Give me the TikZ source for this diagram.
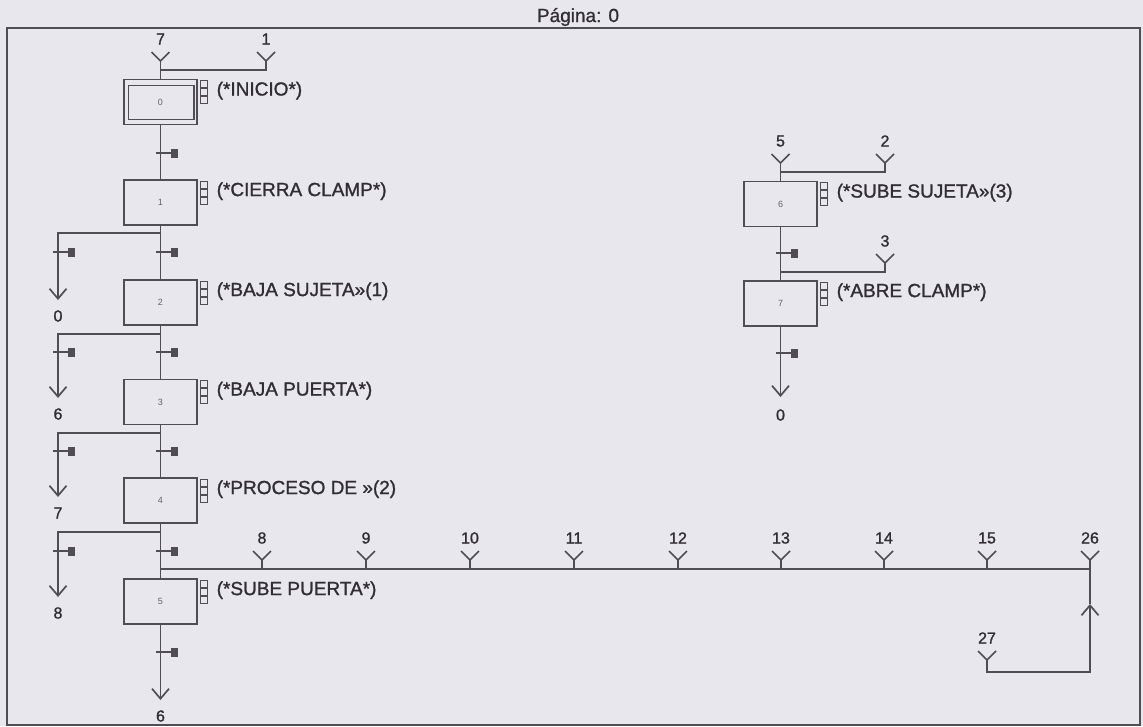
\documentclass[tikz,border=0pt]{standalone}
\usepackage{fontspec}
\setmainfont{Liberation Sans}
\usetikzlibrary{calc, arrows.meta}
\definecolor{papel}{RGB}{232, 231, 237}
\definecolor{trazo}{RGB}{80, 78, 84}
\definecolor{letra}{RGB}{48, 46, 52}

\begin{document}
\begin{tikzpicture}[x=1pt, y=-1pt, line width=1.7pt, trazo,
    etapa/.style={draw, minimum width=73pt, minimum height=45pt, inner sep=0pt,
      font=\fontsize{9}{9}\selectfont, text=letra!75},
    accion/.style={anchor=west, inner sep=0pt,
      font=\fontsize{19}{19}\selectfont\addfontfeature{FakeBold=1.2}, text=letra},
    num/.style={inner sep=0pt,
      font=\fontsize{16}{16}\selectfont\addfontfeature{FakeBold=1.2}, text=letra},
    baja/.style={-{Straight Barb[length=10pt, width=17pt]}},
    trans/.pic={\draw (-5,0) -- (10,0); \fill (10,-4.5) rectangle (17,4.5);},
    entrada/.pic={\draw (-9,-9) -- (0,0) -- (9,-9);}]
  \useasboundingbox (0,0) rectangle (1143,726);
  \fill[papel] (0,0) rectangle (1143,726);
  \draw (7,28) rectangle (1140,725);
  \node[num, font=\fontsize{19}{19}\selectfont\addfontfeature{FakeBold=1}] (pag) at (578,17) {Página: 0};

  % etapas
  \node[etapa] (s0) at (160.5,102) {0};
  \draw[line width=1.3pt] ($(s0.north west)+(5,7)$) rectangle ($(s0.south east)+(-4,-6)$);
  \foreach \n/\x/\y in {1/160.5/202.5, 2/160.5/302.5, 3/160.5/402, 4/160.5/500.5,
      5/160.5/601.5, 6/780.5/204, 7/780.5/303.5}
    \node[etapa] (s\n) at (\x,\y) {\n};

  % acciones
  \foreach \n/\t in {0/{(*INICIO*)}, 1/{(*CIERRA CLAMP*)}, 2/{(*BAJA SUJETA»(1)},
      3/{(*BAJA PUERTA*)}, 4/{(*PROCESO DE »(2)}, 5/{(*SUBE PUERTA*)},
      6/{(*SUBE SUJETA»(3)}, 7/{(*ABRE CLAMP*)}} {
    \node[accion] (a\n) at ($(s\n.north east)+(18,12)$) {\t};
    \foreach \k in {0,1,2}
      \draw[line width=0.9pt] ($(s\n.north east)+(3,2+8*\k)$) rectangle +(7,7);
  }

  % entradas
  \foreach \t/\x/\y in {7/160.5/61, 1/266/61, 5/780.5/163, 2/885/163, 3/885/263,
      27/987/660, 8/262/560, 9/366/560, 10/470/560, 11/574/560, 12/678/560,
      13/781/560, 14/884/560, 15/987/560, 26/1090/560} {
    \coordinate (y\t) at (\x,\y);
    \pic at (y\t) {entrada};
    \node[num] (e\t) at (\x,\y-22) {\t};
  }
  \coordinate (j0) at (160.5,70);
  \coordinate (j5) at (160.5,569);
  \coordinate (j6) at (780.5,172);
  \coordinate (j7) at (780.5,272);

  % enlaces
  \draw (y7) -- (s0) (y1) |- (j0);
  \foreach \a/\b in {0/1, 1/2, 2/3, 3/4, 4/5, 6/7} \draw (s\a) -- (s\b);
  \draw (y5) -- (s6) (y2) |- (j6) (y3) |- (j7);
  \foreach \t in {8,...,15,26} \draw (y\t) -- (y\t |- j5);
  \draw (j5) -- (j5 -| y26);
  \coordinate (r27) at (1090,672);
  \coordinate (m26) at (1090,604);
  \draw[baja] (y27) |- (r27) -- (m26);
  \draw (m26) -- (y26);

  % divergencias y salidas
  \foreach \n/\d/\a/\o in {1/233/300/0, 2/334/398/6, 3/433/497/7, 4/532/597/8} {
    \coordinate (d\n) at (160.5,\d);
    \coordinate (f\n) at (58,\a);
    \draw[baja] (d\n) -| (f\n);
    \node[num] (o\n) at (58,\a+16) {\o};
  }
  \coordinate (f5) at (160.5,700);
  \draw[baja] (s5) -- (f5);
  \node[num] (o5) at (160.5,716) {6};
  \coordinate (f7) at (780.5,397);
  \draw[baja] (s7) -- (f7);
  \node[num] (o7) at (780.5,415) {0};

  % transiciones
  \foreach \x/\y in {160.5/153, 160.5/252, 160.5/352, 160.5/451, 160.5/551, 160.5/652,
      58/252, 58/352, 58/451, 58/551, 780.5/253, 780.5/353}
    \pic at (\x,\y) {trans};
\end{tikzpicture}
\end{document}
